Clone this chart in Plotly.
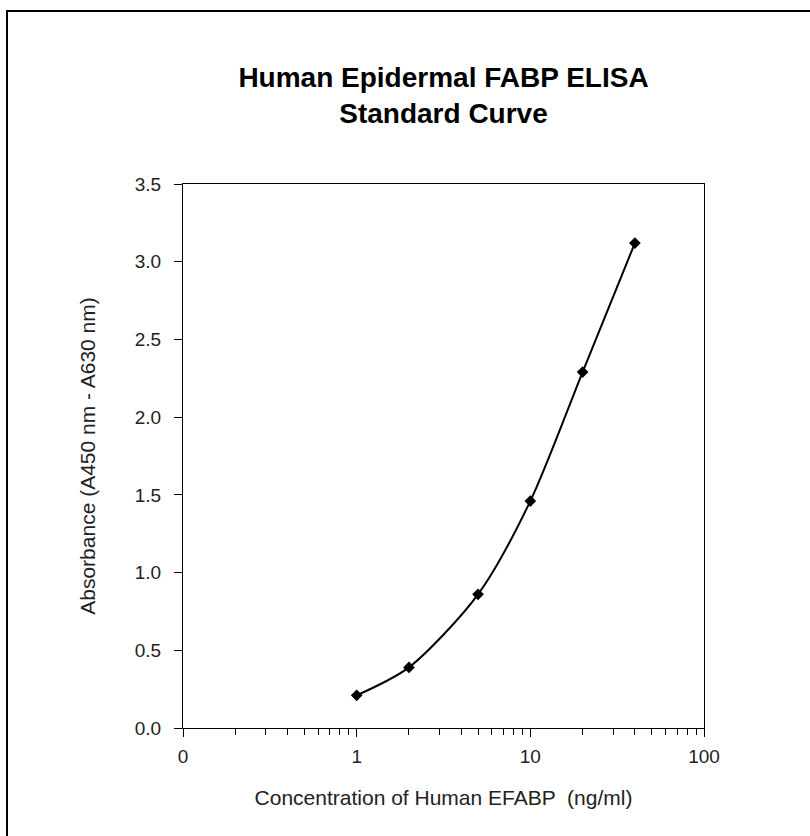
import plotly.graph_objects as go

concentration = [1, 2, 5, 10, 20, 40]
absorbance = [0.21, 0.39, 0.86, 1.46, 2.29, 3.12]

x_tick_vals = [0.1, 1, 10, 100]
x_tick_text = ["0", "1", "10", "100"]
y_tick_vals = [0.0, 0.5, 1.0, 1.5, 2.0, 2.5, 3.0, 3.5]
y_tick_text = ["0.0", "0.5", "1.0", "1.5", "2.0", "2.5", "3.0", "3.5"]

FONT = "Liberation Sans Narrow, Arial Narrow, Liberation Sans, Arial, sans-serif"

W, H = 810, 836
L, R, T, B = 183, 704, 184, 728

fig = go.Figure()
fig.add_trace(go.Scatter(
    x=concentration, y=absorbance, mode="lines+markers",
    line=dict(color="black", width=2, shape="spline", smoothing=0.8),
    marker=dict(symbol="diamond", size=9, color="black"),
    showlegend=False,
))

def px2paper_x(px):
    return (px - L) / (R - L)

def px2paper_y(py):
    return (B - py) / (B - T)

fig.add_shape(type="rect", xref="paper", yref="paper",
              x0=px2paper_x(7), x1=px2paper_x(840),
              y0=px2paper_y(870), y1=px2paper_y(11),
              line=dict(color="black", width=2), layer="below")

fig.update_layout(
    width=W, height=H,
    margin=dict(l=L, r=W - R, t=T, b=H - B),
    paper_bgcolor="white", plot_bgcolor="white",
    font=dict(family=FONT, color="#222222", size=20),
    title=dict(text="<b>Human Epidermal FABP ELISA<br>Standard Curve</b>",
               x=0.5, xref="paper", xanchor="center",
               y=1 - 87 / H, yref="container", yanchor="middle",
               font=dict(family=FONT, size=28, color="black")),
)

fig.update_xaxes(
    type="log", range=[-1, 2],
    tickvals=x_tick_vals, ticktext=x_tick_text,
    ticks="outside", ticklen=8, tickwidth=1, tickcolor="black",
    minor=dict(ticks="outside", ticklen=6, tickwidth=1, tickcolor="black",
               dtick="D1", showgrid=False),
    showline=True, linecolor="black", linewidth=1, mirror=True,
    showgrid=False, zeroline=False,
    tickfont=dict(size=19), ticklabelstandoff=3,
    title=dict(text="Concentration of Human EFABP  (ng/ml)", standoff=24,
               font=dict(size=21)),
)
fig.update_yaxes(
    range=[0, 3.5],
    tickvals=y_tick_vals, ticktext=y_tick_text,
    ticks="outside", ticklen=8, tickwidth=1, tickcolor="black",
    showline=True, linecolor="black", linewidth=1, mirror=True,
    showgrid=False, zeroline=False,
    tickfont=dict(size=19), ticklabelstandoff=9,
    title=dict(text="Absorbance (A450 nm - A630 nm)", standoff=33,
               font=dict(size=21)),
)

fig.write_html("out.html", config={"displayModeBar": False},
               post_script="document.body.style.margin='0';")
